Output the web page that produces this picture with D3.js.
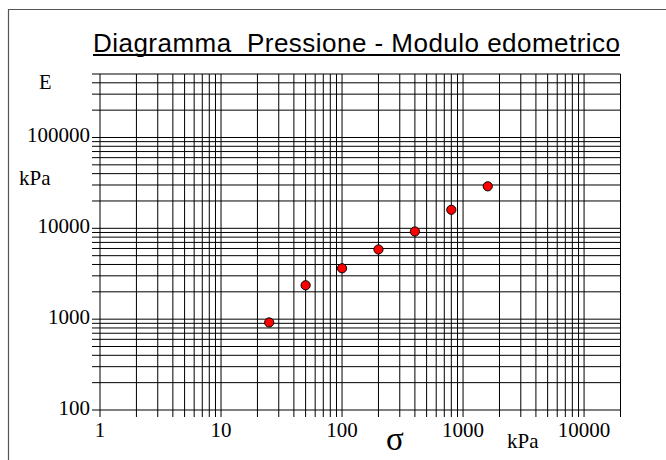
<!DOCTYPE html>
<html><head><meta charset="utf-8">
<script src="https://cdn.jsdelivr.net/npm/d3@7"></script>
<style>body{margin:0;background:#fff;overflow:hidden}svg{display:block}</style>
</head><body>
<svg id="c" width="666" height="460"></svg>
<script>
const titleText = "Diagramma  Pressione - Modulo edometrico";
const xTickValues = [1, 10, 100, 1000, 10000];
const yTickValues = [100, 1000, 10000, 100000];
const sigma = [25, 50, 100, 200, 400, 800, 1600];
const modulus = [920, 2360, 3630, 5850, 9230, 16000, 29000];

const svg = d3.select("#c");
const L = 100, R = 620.5, T = 74, B = 410;
const x = d3.scaleLog().domain([1, 20000]).range([L, R]);
const y = d3.scaleLog().domain([100, 500000]).range([B, T]);

// frame (only left and top edges visible)
svg.append("path").attr("d", "M8.5,470 L8.5,9.5 L680,9.5")
  .attr("fill", "none").attr("stroke", "#555").attr("stroke-width", 1.2);

// title
const titleW = 527;
svg.append("text").attr("x", 93).attr("y", 51.5)
  .attr("font-family", "Liberation Sans, Arial, sans-serif").attr("font-size", 26)
  .attr("textLength", titleW).attr("lengthAdjust", "spacing")
  .attr("fill", "#000").attr("xml:space", "preserve").style("white-space", "pre").text(titleText);
svg.append("line").attr("x1", 93).attr("x2", 93 + titleW).attr("y1", 55).attr("y2", 55)
  .attr("stroke", "#000").attr("stroke-width", 2);

// grid lines
function logLines(lo, hi) {
  const out = [];
  for (let d = lo; d < hi * 1.0001; d *= 10) {
    for (let k = 1; k <= 9; k++) {
      const v = d * k;
      if (v >= lo * 0.9999 && v <= hi * 1.0001) out.push(v);
    }
  }
  return out;
}
const g = svg.append("g");
g.selectAll("line.v").data(logLines(1, 20000)).join("line").attr("class", "v")
  .attr("x1", d => x(d)).attr("x2", d => x(d)).attr("y1", T).attr("y2", B + 7)
  .attr("stroke", "#000").attr("stroke-width", 1);
g.selectAll("line.h").data(logLines(100, 500000)).join("line").attr("class", "h")
  .attr("y1", d => y(d)).attr("y2", d => y(d)).attr("x1", L - 8).attr("x2", R)
  .attr("stroke", "#000").attr("stroke-width", 1);

// tick labels
const serif = "Liberation Serif, Times New Roman, serif";
svg.append("g").selectAll("text").data(xTickValues).join("text")
  .attr("x", d => x(d)).attr("y", 437).attr("text-anchor", "middle")
  .attr("font-family", serif).attr("font-size", 21).text(d => d);
svg.append("g").selectAll("text").data(yTickValues).join("text")
  .attr("x", 90).attr("y", d => y(d) + 5).attr("text-anchor", "end")
  .attr("font-family", serif).attr("font-size", 21).text(d => d);

// axis titles
svg.append("text").attr("x", 39).attr("y", 89).attr("font-family", serif).attr("font-size", 20.5).text("E");
svg.append("text").attr("x", 19).attr("y", 185).attr("font-family", serif).attr("font-size", 21).text("kPa");
svg.append("text").attr("x", 386).attr("y", 450).attr("font-family", serif).attr("font-size", 33).text("σ");
svg.append("text").attr("x", 507).attr("y", 448).attr("font-family", serif).attr("font-size", 21).text("kPa");

// points
svg.append("g").selectAll("circle").data(sigma.map((s, i) => [s, modulus[i]])).join("circle")
  .attr("cx", d => x(d[0])).attr("cy", d => y(d[1])).attr("r", 4.6)
  .attr("fill", "#ff0000").attr("stroke", "#000").attr("stroke-width", 1);
</script>
</body></html>
